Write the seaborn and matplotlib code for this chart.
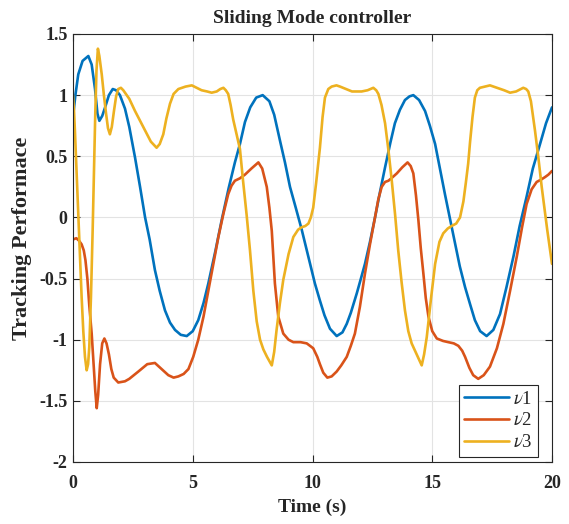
import numpy as np
import pandas as pd
import matplotlib
matplotlib.use("Agg")
import matplotlib.pyplot as plt
import seaborn as sns

# ---------------- data ----------------
t_v1 = [0.0, 0.1, 0.22, 0.4, 0.64, 0.78, 0.92, 1.02, 1.1, 1.22, 1.34, 1.5, 1.66, 1.8, 1.96,
        2.17, 2.35, 2.59, 2.8, 3.01, 3.2, 3.42, 3.62, 3.84, 4.05, 4.26, 4.5, 4.75, 5.0, 5.23,
        5.45, 5.65, 5.95, 6.21, 6.5, 6.76, 6.97, 7.18, 7.4, 7.65, 7.92, 8.2, 8.4, 8.64, 8.85,
        9.06, 9.3, 9.55, 9.9, 10.1, 10.31, 10.5, 10.73, 11.01, 11.25, 11.43, 11.6, 11.85, 12.05,
        12.19, 12.4, 12.61, 12.82, 13.03, 13.25, 13.44, 13.65, 13.86, 14.05, 14.21, 14.45, 14.7,
        14.9, 15.12, 15.32, 15.53, 15.75, 15.95, 16.15, 16.37, 16.58, 16.78, 17.0, 17.27, 17.55,
        17.83, 18.1, 18.39, 18.65, 18.94, 19.2, 19.5, 19.75, 20.0]
v1 = [0.82, 1.0, 1.17, 1.28, 1.32, 1.25, 1.05, 0.85, 0.79, 0.83, 0.90, 1.0, 1.05, 1.04, 1.0,
      0.89, 0.74, 0.49, 0.25, 0.0, -0.18, -0.43, -0.6, -0.76, -0.86, -0.92, -0.96, -0.97, -0.93, -0.84,
      -0.7, -0.54, -0.27, -0.02, 0.24, 0.45, 0.6, 0.78, 0.9, 0.98, 1.0, 0.95, 0.84, 0.63, 0.45,
      0.25, 0.08, -0.1, -0.38, -0.54, -0.68, -0.8, -0.91, -0.97, -0.94, -0.87, -0.78, -0.62, -0.48,
      -0.38, -0.2, 0.0, 0.21, 0.41, 0.61, 0.77, 0.88, 0.96, 0.99, 1.0, 0.96, 0.87,
      0.75, 0.6, 0.4, 0.19, -0.02, -0.21, -0.4, -0.57, -0.71, -0.84, -0.93, -0.97, -0.92,
      -0.79, -0.57, -0.32, -0.07, 0.17, 0.4, 0.6, 0.77, 0.90]

t_v2 = [0.0, 0.14, 0.25, 0.36, 0.45, 0.52, 0.6, 0.68, 0.78, 0.86, 0.93, 0.99, 1.05, 1.13, 1.22,
        1.31, 1.4, 1.5, 1.6, 1.7, 1.89, 2.17, 2.35, 2.73, 3.1, 3.42, 3.7, 3.98, 4.2, 4.4, 4.62,
        4.82, 5.02, 5.23, 5.45, 5.65, 5.87, 6.07, 6.28, 6.48, 6.62, 6.76, 6.97, 7.18, 7.45, 7.74,
        7.9, 8.09, 8.2, 8.30, 8.43, 8.57, 8.78, 9.0, 9.2, 9.5, 9.76, 10.03, 10.2, 10.31, 10.45,
        10.62, 10.8, 11.01, 11.2, 11.43, 11.6, 11.77, 11.98, 12.19, 12.4, 12.61, 12.75, 12.89,
        13.03, 13.17, 13.35, 13.52, 13.75, 13.97, 14.1, 14.21, 14.32, 14.42, 14.52, 14.63, 14.73,
        14.84, 15.0, 15.19, 15.45, 15.67, 15.9, 16.09, 16.25, 16.37, 16.55, 16.71, 16.92, 17.15,
        17.41, 17.7, 17.97, 18.25, 18.53, 18.75, 18.94, 19.15, 19.36, 19.55, 19.71, 19.85, 20.0]
v2 = [-0.18, -0.17, -0.19, -0.22, -0.27, -0.35, -0.5, -0.72, -0.95, -1.2, -1.42, -1.56, -1.45, -1.2, -1.03,
      -0.99, -1.03, -1.12, -1.24, -1.31, -1.35, -1.34, -1.32, -1.26, -1.2, -1.19, -1.24, -1.29, -1.31, -1.30, -1.28,
      -1.24, -1.14, -1.0, -0.81, -0.6, -0.37, -0.16, 0.03, 0.19, 0.26, 0.30, 0.32, 0.35, 0.40, 0.45,
      0.40, 0.25, 0.08, -0.11, -0.54, -0.81, -0.95, -1.0, -1.02, -1.02, -1.03, -1.07, -1.14, -1.2, -1.27,
      -1.31, -1.30, -1.26, -1.21, -1.14, -1.05, -0.95, -0.73, -0.46, -0.22, 0.0, 0.15, 0.25,
      0.29, 0.30, 0.33, 0.36, 0.41, 0.45, 0.42, 0.36, 0.18, -0.02, -0.25, -0.46, -0.66,
      -0.81, -0.93, -0.99, -1.01, -1.02, -1.03, -1.05, -1.09, -1.14, -1.23, -1.29, -1.32, -1.29,
      -1.22, -1.07, -0.87, -0.6, -0.32, -0.08, 0.11, 0.23, 0.29, 0.31, 0.33, 0.35, 0.38]

t_v3 = [0.0, 0.04, 0.08, 0.15, 0.22, 0.29, 0.36, 0.43, 0.5, 0.57, 0.63, 0.68, 0.75, 0.82, 0.88,
        0.93, 0.98, 1.04, 1.1, 1.2, 1.29, 1.38, 1.46, 1.54, 1.62, 1.71, 1.8, 1.89, 2.0, 2.1, 2.35,
        2.59, 2.8, 3.01, 3.25, 3.49, 3.62, 3.77, 3.9, 4.05, 4.2, 4.4, 4.7, 4.96, 5.17, 5.37, 5.6,
        5.79, 6.0, 6.15, 6.28, 6.38, 6.48, 6.58, 6.69, 6.83, 6.97, 7.1, 7.25, 7.39, 7.53, 7.67,
        7.81, 7.95, 8.1, 8.30, 8.4, 8.5, 8.64, 8.78, 9.0, 9.2, 9.4, 9.55, 9.7, 9.83, 9.93, 10.03,
        10.15, 10.31, 10.42, 10.52, 10.66, 10.8, 11.0, 11.15, 11.4, 11.65, 11.85, 12.05, 12.3,
        12.54, 12.66, 12.75, 12.88, 13.03, 13.17, 13.31, 13.45, 13.58, 13.72, 13.86, 14.0, 14.14,
        14.35, 14.56, 14.66, 14.77, 14.95, 15.12, 15.3, 15.46, 15.65, 15.81, 16.0, 16.16, 16.3,
        16.4, 16.5, 16.58, 16.68, 16.78, 16.88, 16.99, 17.2, 17.41, 17.7, 18.0, 18.25, 18.5, 18.8,
        18.92, 19.01, 19.12, 19.29, 19.43, 19.57, 19.8, 20.0]
v3 = [1.0, 0.88, 0.71, 0.38, 0.03, -0.32, -0.65, -0.93, -1.14, -1.25, -1.2, -1.06, -0.65, -0.11, 0.4,
      0.85, 1.2, 1.38, 1.32, 1.17, 1.0, 0.85, 0.73, 0.68, 0.74, 0.87, 0.99, 1.05, 1.06, 1.04, 0.97,
      0.87, 0.79, 0.71, 0.62, 0.57, 0.6, 0.68, 0.81, 0.93, 1.01, 1.05, 1.07, 1.08, 1.06, 1.04, 1.03,
      1.02, 1.03, 1.05, 1.06, 1.04, 1.01, 0.92, 0.8, 0.68, 0.56, 0.3, 0.02, -0.27, -0.6, -0.85,
      -1.0, -1.08, -1.14, -1.21, -1.1, -0.92, -0.7, -0.51, -0.3, -0.16, -0.1, -0.08, -0.07, -0.05, 0.0, 0.08,
      0.28, 0.57, 0.82, 0.98, 1.05, 1.07, 1.08, 1.07, 1.05, 1.03, 1.03, 1.03, 1.04,
      1.06, 1.04, 1.01, 0.92, 0.77, 0.55, 0.30, 0.02, -0.27, -0.53, -0.76, -0.93, -1.03,
      -1.12, -1.21, -1.12, -0.98, -0.66, -0.38, -0.2, -0.13, -0.09, -0.07, -0.05, 0.0, 0.13,
      0.28, 0.44, 0.62, 0.82, 0.98, 1.04, 1.06, 1.07, 1.08, 1.06, 1.04, 1.02, 1.03, 1.06,
      1.05, 1.03, 0.95, 0.71, 0.49, 0.25, -0.1, -0.38]

series_names = [r"$\nu$1", r"$\nu$2", r"$\nu$3"]
colors = ["#0072BD", "#D95319", "#EDB120"]

x_ticks = [0, 5, 10, 15, 20]
x_tick_labels = ["0", "5", "10", "15", "20"]
y_ticks = [-2, -1.5, -1, -0.5, 0, 0.5, 1, 1.5]
y_tick_labels = ["-2", "-1.5", "-1", "-0.5", "0", "0.5", "1", "1.5"]

title = "Sliding Mode controller"
xlabel = "Time (s)"
ylabel = "Tracking Performace"

# ---------------- build long table ----------------
frames = []
for name, tt, vv in zip(series_names, [t_v1, t_v2, t_v3], [v1, v2, v3]):
    frames.append(pd.DataFrame({"t": tt, "v": vv, "series": name}))
df = pd.concat(frames, ignore_index=True)

# ---------------- style ----------------
sns.set_theme(style="white")
plt.rcParams["font.family"] = ["Liberation Serif", "DejaVu Serif"]
plt.rcParams["mathtext.fontset"] = "stix"
plt.rcParams["axes.unicode_minus"] = False

fig = plt.figure(figsize=(5.69, 5.24), dpi=100)
ax = fig.add_axes([73 / 569, 1 - 462 / 524, (552 - 73) / 569, (462 - 34) / 524])

sns.lineplot(data=df, x="t", y="v", hue="series", palette=colors, estimator=None,
             sort=True, linewidth=1.9, ax=ax, legend=True)

ax.set_xlim(0, 20)
ax.set_ylim(-2, 1.5)
ax.set_xticks(x_ticks)
ax.set_xticklabels(x_tick_labels, fontweight="bold", fontsize=13)
ax.set_yticks(y_ticks)
ax.set_yticklabels(y_tick_labels, fontweight="bold", fontsize=13)

ax.grid(True, color="#e3e3e3", linewidth=0.8)
ax.set_axisbelow(True)
for s in ax.spines.values():
    s.set_color("#262626")
    s.set_linewidth(0.8)
ax.tick_params(direction="in", length=5, width=0.8, color="#262626",
               top=True, right=True, bottom=True, left=True)
ax.tick_params(axis="x", pad=9)
ax.tick_params(axis="y", pad=4)

ax.set_title(title, fontweight="bold", fontsize=14, pad=8)
ax.set_xlabel(xlabel, fontweight="bold", fontsize=14, labelpad=5)
ax.set_ylabel(ylabel, fontweight="bold", fontsize=16)
ax.yaxis.set_label_coords(-0.086, 0.523)

handles, labels = ax.get_legend_handles_labels()
leg = ax.legend(handles, labels, loc="lower right", bbox_to_anchor=(0.971, 0.012),
                borderaxespad=0, fontsize=13.5, frameon=True, fancybox=False,
                framealpha=1, edgecolor="#262626", handlelength=2.4,
                labelspacing=0.25, borderpad=0.3, handletextpad=0.2)
leg.get_frame().set_linewidth(0.8)

fig.savefig("out.png", dpi=100)
